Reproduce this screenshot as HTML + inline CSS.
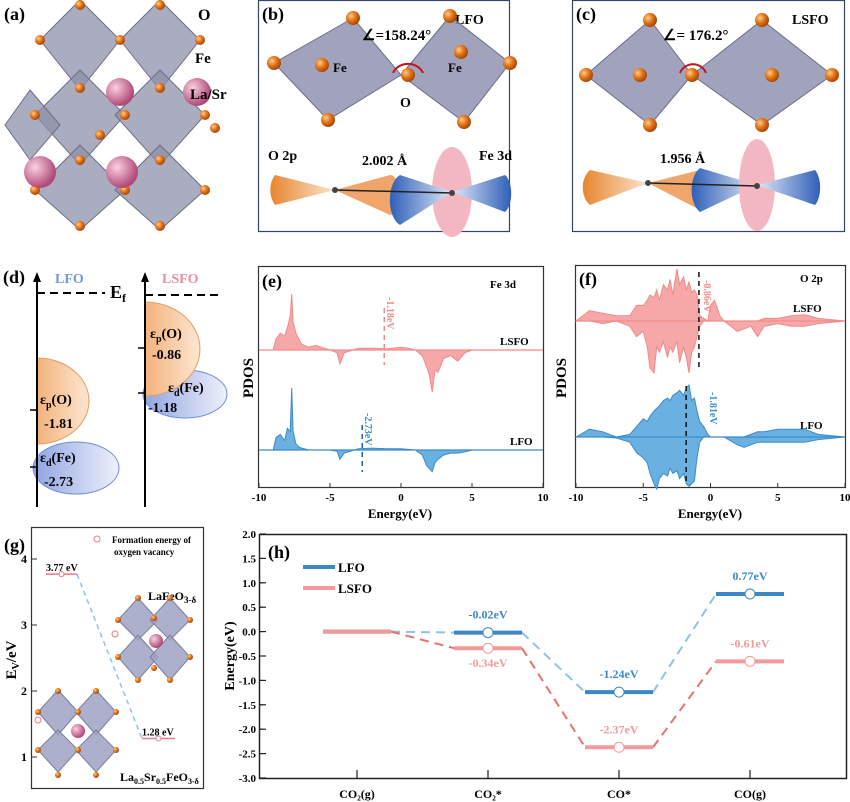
<!DOCTYPE html>
<html><head><meta charset="utf-8"><style>
html,body{margin:0;padding:0;background:#fff}
svg{display:block;font-family:"Liberation Serif",serif;font-weight:bold}
</style></head><body>
<svg id="fig" width="850" height="802" viewBox="0 0 850 802">
<defs>
<radialGradient id="og" cx="35%" cy="35%" r="65%"><stop offset="0" stop-color="#ffd08a"/><stop offset="0.5" stop-color="#e8781c"/><stop offset="1" stop-color="#a84a08"/></radialGradient>
<radialGradient id="pg" cx="35%" cy="35%" r="65%"><stop offset="0" stop-color="#fbd0e0"/><stop offset="1" stop-color="#b04878"/></radialGradient>
<linearGradient id="dorg" x1="0" x2="1"><stop offset="0" stop-color="#f3b27c"/><stop offset="1" stop-color="#fde6d2"/></linearGradient>
<linearGradient id="dblu" x1="0" x2="1"><stop offset="0" stop-color="#8fa3e0"/><stop offset="1" stop-color="#eef1fb"/></linearGradient>
<linearGradient id="lobeO" x1="0" x2="1"><stop offset="0" stop-color="#e8862e"/><stop offset="1" stop-color="#fbe3cf"/></linearGradient>
<linearGradient id="lobeB" x1="0" x2="1"><stop offset="0" stop-color="#2f5fb8"/><stop offset="1" stop-color="#e0e8f6"/></linearGradient>
<linearGradient id="lobeB2" x1="1" x2="0"><stop offset="0" stop-color="#2f5fb8"/><stop offset="1" stop-color="#e0e8f6"/></linearGradient>
</defs>

<!-- Panel a -->
<g>
<text x="4" y="20" font-size="18">(a)</text>
<g fill="#8e90aa" fill-opacity="0.75" stroke="#6c6e88" stroke-width="1">
<polygon points="80,0 120,40 80,90 40,40"/><polygon points="160,0 200,40 160,90 120,40"/>
<polygon points="80,70 125,115 80,165 35,115"/><polygon points="160,70 205,115 160,165 115,115"/>
<polygon points="80,145 125,190 80,230 35,190"/><polygon points="160,145 205,190 160,230 115,190"/>
<polygon points="30,90 60,125 30,160 5,125"/>
</g>
<g fill="url(#og)">
<circle cx="80" cy="5" r="5"/><circle cx="160" cy="5" r="5"/><circle cx="40" cy="40" r="5"/><circle cx="120" cy="40" r="5"/><circle cx="200" cy="40" r="5"/>
<circle cx="80" cy="88" r="5"/><circle cx="160" cy="88" r="5"/><circle cx="35" cy="115" r="5"/><circle cx="205" cy="115" r="5"/><circle cx="125" cy="115" r="5"/>
<circle cx="80" cy="160" r="5"/><circle cx="160" cy="160" r="5"/><circle cx="35" cy="190" r="5"/><circle cx="125" cy="190" r="5"/><circle cx="205" cy="190" r="5"/>
<circle cx="80" cy="226" r="5"/><circle cx="160" cy="226" r="5"/><circle cx="215" cy="128" r="5"/><circle cx="100" cy="135" r="5"/>
</g>
<g fill="url(#pg)"><circle cx="120" cy="92" r="14"/><circle cx="197" cy="92" r="14"/><circle cx="40" cy="172" r="16"/><circle cx="122" cy="172" r="16"/></g>
<text x="198" y="20" font-size="16">O</text>
<text x="195" y="63" font-size="15">Fe</text>
<text x="190" y="99" font-size="15">La/Sr</text>
</g>

<!-- Panel b -->
<g>
<rect x="258.5" y="0.5" width="251" height="231" fill="none" stroke="#34466e" stroke-width="1.2"/>
<text x="262" y="20" font-size="18">(b)</text>
<text x="455" y="24" font-size="14">LFO</text>
<g fill="#8a8cac" fill-opacity="0.8" stroke="#6c6e88">
<polygon points="353,18 274,63 328,120 401,75"/>
<polygon points="450,16 401,75 464,122 510,63"/>
</g>
<g fill="url(#og)">
<circle cx="353" cy="18" r="7"/><circle cx="274" cy="63" r="7"/><circle cx="328" cy="120" r="7"/><circle cx="322" cy="65" r="7"/>
<circle cx="450" cy="16" r="7"/><circle cx="510" cy="63" r="7"/><circle cx="464" cy="122" r="7"/><circle cx="461" cy="52" r="7"/><circle cx="408" cy="75" r="7"/>
</g>
<path d="M393,73 A16,14 0 0 1 423,73" fill="none" stroke="#c0151b" stroke-width="2"/>
<text x="362" y="40" font-size="15">∠=158.24°</text>
<text x="333" y="72" font-size="13">Fe</text><text x="448" y="72" font-size="13">Fe</text>
<text x="400" y="107" font-size="14">O</text>
<text x="268" y="160" font-size="14">O 2p</text><text x="479" y="160" font-size="14">Fe 3d</text>
<text x="362" y="165" font-size="14">2.002 Å</text>
<path d="M335,190 L275,175 A14,20 0 0 0 275,205 Z" fill="url(#lobeO)"/>
<path d="M335,190 L390,175 A10,20 0 0 1 390,215 Z" fill="#f0a56a"/>
<ellipse cx="452" cy="192" rx="20" ry="45" fill="#f3b7c1"/>
<path d="M452,192 L400,175 A14,26 0 0 0 400,225 Z" fill="url(#lobeB)"/>
<path d="M452,192 L505,175 A10,20 0 0 1 505,212 Z" fill="url(#lobeB2)"/>
<line x1="335" y1="190" x2="452" y2="193" stroke="#222" stroke-width="1.5"/>
<circle cx="335" cy="190" r="3" fill="#444"/><circle cx="452" cy="193" r="3" fill="#444"/>
</g>

<!-- Panel c -->
<g>
<rect x="572.5" y="0.5" width="272" height="231" fill="none" stroke="#34466e" stroke-width="1.2"/>
<text x="576" y="20" font-size="18">(c)</text>
<text x="792" y="24" font-size="14">LSFO</text>
<g fill="#8a8cac" fill-opacity="0.8" stroke="#6c6e88">
<polygon points="650,20 586,75 650,125 692,75"/>
<polygon points="762,20 692,75 762,125 832,75"/>
</g>
<g fill="url(#og)">
<circle cx="650" cy="20" r="7"/><circle cx="586" cy="75" r="7"/><circle cx="650" cy="125" r="7"/><circle cx="640" cy="75" r="7"/><circle cx="692" cy="75" r="7"/>
<circle cx="762" cy="20" r="7"/><circle cx="832" cy="75" r="7"/><circle cx="762" cy="125" r="7"/><circle cx="772" cy="75" r="7"/>
</g>
<path d="M680,73 A14,14 0 0 1 706,73" fill="none" stroke="#c0151b" stroke-width="2"/>
<text x="663" y="40" font-size="15">∠= 176.2°</text>
<text x="660" y="163" font-size="14">1.956 Å</text>
<path d="M648,183 L590,170 A14,20 0 0 0 590,205 Z" fill="url(#lobeO)"/>
<path d="M648,183 L700,170 A10,20 0 0 1 700,210 Z" fill="#f0a56a"/>
<path d="M757,185 L700,168 A14,24 0 0 0 700,212 Z" fill="url(#lobeB)"/>
<ellipse cx="757" cy="185" rx="18" ry="46" fill="#f3b7c1"/>
<path d="M757,185 L815,170 A10,20 0 0 1 815,205 Z" fill="url(#lobeB2)"/>
<line x1="648" y1="183" x2="757" y2="186" stroke="#222" stroke-width="1.5"/>
<circle cx="648" cy="183" r="3" fill="#444"/><circle cx="757" cy="186" r="3" fill="#444"/>
</g>

<!-- Panel d -->
<g>
<text x="3" y="283" font-size="18">(d)</text>
<text x="55" y="283" font-size="14" fill="#6f9ad8">LFO</text>
<text x="162" y="283" font-size="14" fill="#f08aa0">LSFO</text>
<ellipse cx="76" cy="468" rx="43" ry="26" fill="url(#dblu)" stroke="#6f8ee0"/>
<path d="M37,358 A52,43 0 0 1 37,444 Z" fill="url(#dorg)" stroke="#e89a58"/>
<ellipse cx="185" cy="394" rx="42" ry="24" fill="url(#dblu)" stroke="#6f8ee0"/>
<path d="M145,302 A55,47 0 0 1 145,396 Z" fill="url(#dorg)" stroke="#e89a58"/>
<line x1="37" y1="507" x2="37" y2="280" stroke="#000" stroke-width="2"/>
<polygon points="33,282 37,272 41,282"/>
<line x1="145" y1="507" x2="145" y2="280" stroke="#000" stroke-width="2"/>
<polygon points="141,282 145,272 149,282"/>
<line x1="30" y1="410" x2="37" y2="410" stroke="#000" stroke-width="1.5"/>
<line x1="30" y1="467" x2="37" y2="467" stroke="#000" stroke-width="1.5"/>
<line x1="138" y1="348" x2="145" y2="348" stroke="#000" stroke-width="1.5"/>
<line x1="138" y1="393" x2="145" y2="393" stroke="#000" stroke-width="1.5"/>
<line x1="37" y1="293" x2="105" y2="293" stroke="#000" stroke-width="2" stroke-dasharray="8,5"/>
<line x1="145" y1="295" x2="220" y2="295" stroke="#000" stroke-width="2" stroke-dasharray="8,5"/>
<text x="110" y="298" font-size="18">E<tspan font-size="12" dy="4">f</tspan></text>
<text x="40" y="404" font-size="14">ε<tspan font-size="10" dy="4">p</tspan><tspan dy="-4">(O)</tspan></text>
<text x="44" y="428" font-size="14">-1.81</text>
<text x="40" y="462" font-size="14">ε<tspan font-size="10" dy="4">d</tspan><tspan dy="-4">(Fe)</tspan></text>
<text x="44" y="486" font-size="14">-2.73</text>
<text x="150" y="338" font-size="14">ε<tspan font-size="10" dy="4">p</tspan><tspan dy="-4">(O)</tspan></text>
<text x="152" y="359" font-size="14">-0.86</text>
<text x="168" y="392" font-size="14">ε<tspan font-size="10" dy="4">d</tspan><tspan dy="-4">(Fe)</tspan></text>
<text x="148" y="412" font-size="14">-1.18</text>
</g>

<!-- Panels e, f (script) -->
<g id="pe">
<rect x="258.5" y="266.5" width="285" height="221" fill="none" stroke="#333" stroke-width="1.2"/>
<text x="262" y="287" font-size="18">(e)</text>
<text x="490" y="288" font-size="11">Fe 3d</text>
<text x="500" y="345" font-size="11">LSFO</text>
<text x="510" y="445" font-size="11">LFO</text>
<text transform="translate(253,378) rotate(-90)" text-anchor="middle" font-size="15">PDOS</text>
<text x="400" y="518" text-anchor="middle" font-size="13">Energy(eV)</text>
</g>
<g id="pf">
<rect x="575.5" y="265.5" width="270" height="222" fill="none" stroke="#333" stroke-width="1.2"/>
<text x="579" y="285" font-size="18">(f)</text>
<text x="800" y="282" font-size="11">O 2p</text>
<text x="793" y="312" font-size="11">LSFO</text>
<text x="800" y="429" font-size="11">LFO</text>
<text transform="translate(566,378) rotate(-90)" text-anchor="middle" font-size="15">PDOS</text>
<text x="710" y="518" text-anchor="middle" font-size="13">Energy(eV)</text>
</g>

<!-- Panel g -->
<g id="pg2">
<rect x="31.5" y="527.5" width="172" height="261" fill="none" stroke="#333" stroke-width="1.2"/>
<text x="4" y="551" font-size="18">(g)</text>
<circle cx="97" cy="539" r="3" fill="#fff" stroke="#e87a8a"/>
<text x="112" y="543" font-size="9">Formation energy of</text>
<text x="114" y="555" font-size="9">oxygen vacancy</text>
<text transform="translate(16,660) rotate(-90)" text-anchor="middle" font-size="15">E<tspan font-size="10" dy="3">V</tspan><tspan dy="-3">/eV</tspan></text>
<text x="148" y="600" font-size="12">LaFeO<tspan font-size="9" dy="3">3-δ</tspan></text>
<text x="120" y="781" font-size="12">La<tspan font-size="8" dy="3">0.5</tspan><tspan dy="-3">Sr</tspan><tspan font-size="8" dy="3">0.5</tspan><tspan dy="-3">FeO</tspan><tspan font-size="8" dy="3">3-δ</tspan></text>
<g fill="#9da2c4" fill-opacity="0.85" stroke="#7a7e9c">
<polygon points="138,598 158,620 138,640 118,620"/><polygon points="170,598 190,620 170,640 150,620"/>
<polygon points="138,635 158,657 138,680 118,657"/><polygon points="170,635 190,657 170,680 150,657"/>
<polygon points="58,690 78,712 58,735 38,712"/><polygon points="96,690 116,712 96,735 76,712"/>
<polygon points="58,730 78,750 58,772 38,750"/><polygon points="96,730 116,750 96,772 76,750"/>
</g>
<g fill="url(#og)">
<circle cx="138" cy="598" r="3"/><circle cx="170" cy="598" r="3"/><circle cx="118" cy="620" r="3"/><circle cx="190" cy="620" r="3"/><circle cx="154" cy="618" r="3"/>
<circle cx="118" cy="657" r="3"/><circle cx="190" cy="657" r="3"/><circle cx="138" cy="680" r="3"/><circle cx="170" cy="680" r="3"/><circle cx="154" cy="668" r="3"/>
<circle cx="58" cy="691" r="3"/><circle cx="96" cy="691" r="3"/><circle cx="38" cy="712" r="3"/><circle cx="116" cy="712" r="3"/><circle cx="78" cy="712" r="3"/>
<circle cx="38" cy="750" r="3"/><circle cx="116" cy="750" r="3"/><circle cx="78" cy="750" r="3"/><circle cx="58" cy="775" r="3"/><circle cx="96" cy="775" r="3"/>
</g>
<circle cx="156" cy="641" r="7" fill="url(#pg)"/><circle cx="78" cy="731" r="7" fill="url(#pg)"/>
<circle cx="115" cy="634" r="3" fill="#fff" stroke="#e87a8a"/><circle cx="38" cy="720" r="3" fill="#fff" stroke="#e87a8a"/>
</g>

<!-- Panel h -->
<g id="ph">
<rect x="259.5" y="534.5" width="587" height="244" fill="none" stroke="#222" stroke-width="1.5"/>
<text x="268" y="558" font-size="18">(h)</text>
<line x1="303" y1="567" x2="335" y2="567" stroke="#3b88c4" stroke-width="4"/>
<text x="338" y="572" font-size="13">LFO</text>
<line x1="303" y1="588" x2="335" y2="588" stroke="#f29a9a" stroke-width="4"/>
<text x="338" y="593" font-size="13">LSFO</text>
<text transform="translate(234,656) rotate(-90)" text-anchor="middle" font-size="14">Energy(eV)</text>
</g>
</svg>
<script>
var NS='http://www.w3.org/2000/svg';
// ---- panel e data (Fe 3d) ----
var eX=[-10,-9,-8.8,-8.5,-8.2,-8,-7.8,-7.7,-7.6,-7.4,-7.2,-7,-6.5,-6,-5,-4.5,-4.3,-4,-3,-2,-1,0,0.5,1,1.5,1.8,2,2.2,2.4,2.6,3,3.5,4,4.5,5,10];
var eLSFO=[0,0,0.2,0.3,0.25,0.4,0.6,1.0,0.5,0.3,0.2,0.1,0.05,0.08,0,-0.05,-0.25,-0.05,0.03,0.03,0.02,0.05,0.03,0,-0.1,-0.3,-0.45,-0.75,-0.35,-0.4,-0.15,-0.1,-0.2,-0.05,0,0];
var eLFO=[0,0,0.2,0.25,0.15,0.35,0.3,1.0,0.3,0.1,0.05,0.03,0,0,0,-0.02,-0.15,-0.05,0.02,0.03,0.02,0.02,0.01,0,-0.08,-0.25,-0.3,-0.35,-0.2,-0.15,-0.08,-0.05,-0.05,-0.03,0,0];
var eCenters=[-1.18,-2.73];
// ---- panel f data (O 2p) ----
var fX=[-10,-9,-8,-7,-6,-5.5,-5,-4.7,-4.5,-4.2,-4,-3.8,-3.5,-3.2,-3,-2.8,-2.5,-2.3,-2,-1.8,-1.6,-1.4,-1.2,-1,-0.8,-0.5,-0.2,0,0.3,0.7,1,2,2.5,3,3.5,4,5,6,7,8,10];
var fLSFOup=[0,0.2,0.15,0.1,0.1,0.3,0.3,0.4,0.5,0.45,0.6,0.4,0.7,0.6,0.8,0.5,1.0,0.7,0.85,0.6,0.75,0.55,0.6,0.5,0.1,0.05,0,0.3,0.4,0.1,0,0,0,0,0,0.05,0.05,0.1,0.12,0.05,0];
var fLSFOdn=[0,0,-0.05,0,-0.1,-0.3,-0.2,-0.5,-0.9,-1.0,-0.5,-0.6,-0.4,-0.7,-0.5,-0.6,-0.4,-0.8,-0.5,-0.7,-1.0,-0.6,-0.5,-0.3,-0.1,0,0,0,0,0,0,-0.2,-0.15,-0.1,-0.3,-0.1,-0.05,-0.1,-0.1,-0.05,0];
var fLFOup=[0,0.15,0.1,0,0.05,0.2,0.35,0.3,0.4,0.5,0.55,0.6,0.7,0.75,0.7,0.8,0.85,0.9,0.8,0.95,1.0,0.7,0.75,0.5,0.3,0.2,0.05,0,0,0,0,0,0,0.05,0.1,0.1,0.15,0.15,0.15,0.05,0];
var fLFOdn=[0,0,0,-0.02,-0.1,-0.3,-0.4,-0.5,-0.7,-0.9,-1.0,-0.8,-0.7,-0.75,-0.6,-0.7,-0.65,-0.8,-0.7,-0.9,-0.95,-0.9,-0.85,-0.4,-0.1,0,0,0,0,0,0,-0.15,-0.2,-0.15,-0.1,-0.1,-0.1,-0.1,-0.1,-0.05,0];
var fCenters=[-0.86,-1.81];
var xTicks=[-10,-5,0,5,10];
// ---- panel g data ----
var gTicks=[1,2,3,4];
var gValues=[3.77,1.28];
var gLabels=['3.77 eV','1.28 eV'];
// ---- panel h data ----
var hCats=['CO₂(g)','CO₂*','CO*','CO(g)'];
var hLFO=[0,-0.02,-1.24,0.77];
var hLSFO=[0,-0.34,-2.37,-0.61];
var hTicks=[2.0,1.5,1.0,0.5,0.0,-0.5,-1.0,-1.5,-2.0,-2.5,-3.0];

function mk(p,tag,a){var e=document.createElementNS(NS,tag);for(var k in a)e.setAttribute(k,a[k]);p.appendChild(e);return e;}

function spectrum(g,X,up,dn,x0,x1,base,amp,color,fill){
  var sx=function(v){return x0+(v+10)/20*(x1-x0);};
  var d='M'+sx(X[0])+','+base;
  for(var i=0;i<X.length;i++)d+=' L'+sx(X[i]).toFixed(1)+','+(base-up[i]*amp).toFixed(1);
  d+=' L'+sx(X[X.length-1])+','+base;
  var p1=mk(g,'path',{d:d+' Z',fill:fill,stroke:color,'stroke-width':1});
  
  
  if(dn){var d2='M'+sx(X[0])+','+base;
    for(var j=0;j<X.length;j++)d2+=' L'+sx(X[j]).toFixed(1)+','+(base-dn[j]*amp).toFixed(1);
    d2+=' L'+sx(X[X.length-1])+','+base;
    var p2=mk(g,'path',{d:d2+' Z',fill:fill,stroke:color,'stroke-width':1});
    
    }
  var bl=mk(g,'line',{x1:x0,x2:x1,y1:base,y2:base,stroke:color,'stroke-width':1.2});
  
  
  return sx;
}
function xaxis(g,x0,x1,yb){
  for(var i=0;i<xTicks.length;i++){var x=x0+(xTicks[i]+10)/20*(x1-x0);
    var t=mk(g,'line',{x1:x,x2:x,y1:yb,y2:yb-4,stroke:'#333'});
    
    
    var l=mk(g,'text',{x:x,y:yb+14,'text-anchor':'middle','font-size':11});l.textContent=xTicks[i];
    
    }
}
function vline(g,x,y1,y2,c,name){var l=mk(g,'line',{x1:x,x2:x,y1:y1,y2:y2,stroke:c,'stroke-width':1.5,'stroke-dasharray':'5,4'});
  
  }
function vlabel(g,x,y,txt,c){var t=mk(g,'text',{transform:'translate('+x+','+y+') rotate(90)','font-size':10,fill:c});t.textContent=txt;
  
  }

// panel e
var pe=document.getElementById('pe');
var sxe=spectrum(pe,eX,eLSFO,null,259,543,350,56,'#f08a8a','#f6a8a8');
spectrum(pe,eX,eLFO,null,259,543,450,62,'#3b8cc8','#6ab0e0');
xaxis(pe,259,543,487);
vline(pe,sxe(eCenters[0]),308,365,'#f08a8a','lsfo-dband-center');
vlabel(pe,sxe(eCenters[0])+3,297,eCenters[0]+'eV','#f08a8a');
vline(pe,sxe(eCenters[1]),425,472,'#1f5f9a','lfo-dband-center');
vlabel(pe,sxe(eCenters[1])+3,413,eCenters[1]+'eV','#3b8cc8');
// panel f
var pf=document.getElementById('pf');
var sxf=spectrum(pf,fX,fLSFOup,fLSFOdn,576,845,321,52,'#f08a8a','#f6a8a8');
spectrum(pf,fX,fLFOup,fLFOdn,576,845,437,52,'#3b8cc8','#6ab0e0');
xaxis(pf,576,845,487);
vline(pf,sxf(fCenters[0]),272,370,'#111','lsfo-pband-center');
vlabel(pf,sxf(fCenters[0])+5,280,fCenters[0]+'eV','#f08a8a');
vline(pf,sxf(fCenters[1]),386,484,'#111','lfo-pband-center');
vlabel(pf,sxf(fCenters[1])+24,392,fCenters[1]+'eV','#3b8cc8');

// panel g
var pg=document.getElementById('pg2');
function gy(v){return 757-(v-1)*66;}
for(var i=0;i<gTicks.length;i++){
  var t=mk(pg,'line',{x1:32,x2:37,y1:gy(gTicks[i]),y2:gy(gTicks[i]),stroke:'#333'});
  
  
  var l=mk(pg,'text',{x:27,y:gy(gTicks[i])+4,'text-anchor':'end','font-size':12});l.textContent=gTicks[i];
  
  
}
var gx=[[46,77],[142,175]];
var gc=mk(pg,'line',{x1:77,y1:gy(gValues[0]),x2:142,y2:gy(gValues[1]),stroke:'#8ec3e6','stroke-width':1.5,'stroke-dasharray':'5,4'});


for(var k=0;k<gValues.length;k++){
  var ln=mk(pg,'line',{x1:gx[k][0],x2:gx[k][1],y1:gy(gValues[k]),y2:gy(gValues[k]),stroke:'#e87a8a','stroke-width':1.5});
  
  
  var c=mk(pg,'circle',{cx:(gx[k][0]+gx[k][1])/2,cy:gy(gValues[k]),r:2.5,fill:'#fff',stroke:'#e87a8a'});
  
  
  var tl=mk(pg,'text',{x:gx[k][0],y:gy(gValues[k])-3,'font-size':10});tl.textContent=gLabels[k];
  
  
}

// panel h
var ph=document.getElementById('ph');
function hy(v){return 534+(2-v)*48.8;}
function hx(i){return 357+i*131;}
for(var i=0;i<hTicks.length;i++){
  var y=hy(hTicks[i]);
  var t=mk(ph,'line',{x1:260,x2:266,y1:y,y2:y,stroke:'#222','stroke-width':1.2});
  
  
  var l=mk(ph,'text',{x:256,y:y+4,'text-anchor':'end','font-size':11});l.textContent=hTicks[i].toFixed(1);
  
  
  if(i<hTicks.length-1){var m=mk(ph,'line',{x1:260,x2:263,y1:y+24.4,y2:y+24.4,stroke:'#222'});
    
    }
}
for(var i=0;i<hCats.length;i++){
  var t=mk(ph,'line',{x1:hx(i),x2:hx(i),y1:778,y2:770,stroke:'#222','stroke-width':1.2});
  
  
  var l=mk(ph,'text',{x:hx(i),y:798,'text-anchor':'middle','font-size':12});l.textContent=hCats[i];
  
  
}
function series(vals,solid,dash,name,labelPos){
  for(var i=0;i<vals.length-1;i++){
    var d=mk(ph,'line',{x1:hx(i)+34,y1:hy(vals[i]),x2:hx(i+1)-34,y2:hy(vals[i+1]),stroke:dash,'stroke-width':2,'stroke-dasharray':'9,6'});
    
    
  }
  for(var i=0;i<vals.length;i++){
    var s=mk(ph,'line',{x1:hx(i)-34,x2:hx(i)+34,y1:hy(vals[i]),y2:hy(vals[i]),stroke:solid,'stroke-width':4});
    
    
    if(i>0){
      var c=mk(ph,'circle',{cx:hx(i),cy:hy(vals[i]),r:5,fill:'#fff',stroke:solid,'stroke-width':1});
      
      
      var ly=labelPos[i]>0?hy(vals[i])-14:hy(vals[i])+19;
      var t=mk(ph,'text',{x:hx(i),y:ly,'text-anchor':'middle','font-size':12,fill:solid});t.textContent=vals[i].toFixed(2)+'eV';
      
      
    }
  }
}
series(hLFO,'#3b88c4','#8ec3e6','lfo',[1,1,1,1]);
series(hLSFO,'#f29a9a','#e87070','lsfo',[1,-1,1,1]);
</script>
</body></html>
